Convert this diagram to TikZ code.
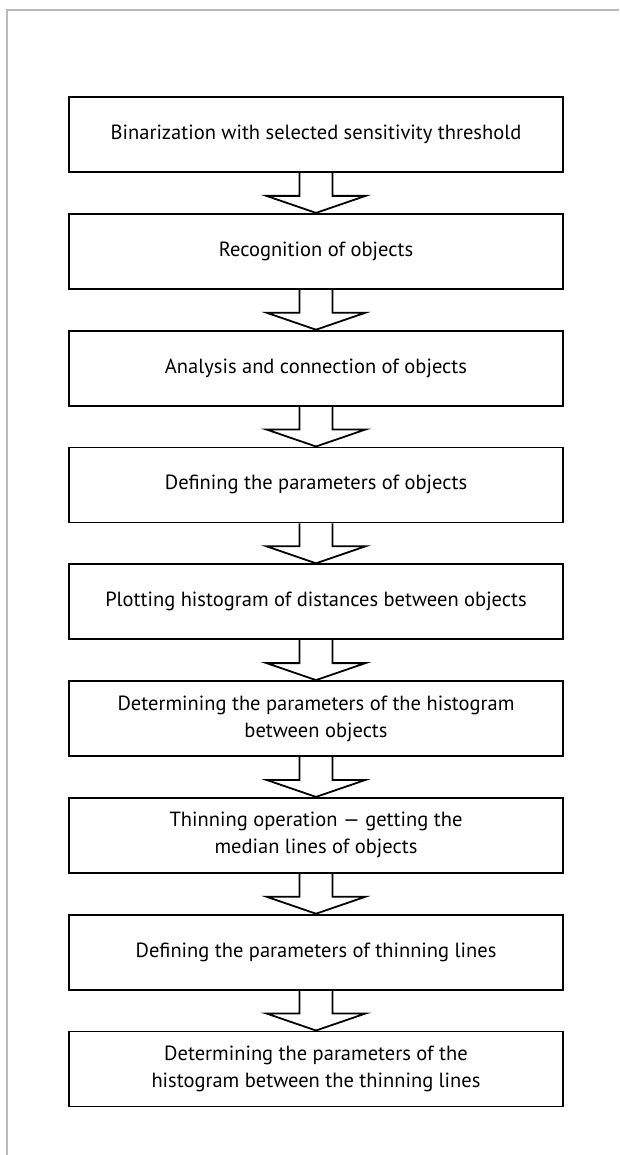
\documentclass[tikz,border=0pt]{standalone}
\usepackage{fontspec}
\setmainfont{PT Sans}
\usetikzlibrary{positioning,calc}

\tikzset{
  stage/.style={draw, line width=1.8pt, minimum width=494pt, minimum height=75pt,
    inner sep=0pt, align=center, font=\fontsize{20.5}{27}\selectfont},
  blockarrow/.style={draw, line width=1.8pt, line join=miter},
}

\begin{document}
\begin{tikzpicture}[x=1pt,y=1pt, node distance=40pt]
	\useasboundingbox (0,0) rectangle (619,-1155);
	
	% Page frame
	\draw[black!27, line width=1.3pt] (7,-1155) -- (7,-10) -- (619,-10);
	
	% Stages
	\node[stage] (s1) at (316,-134.5) {Binarization with selected sensitivity threshold};
	\node[stage, below=of s1] (s2) {Recognition of objects};
	\node[stage, below=of s2] (s3) {Analysis and connection of objects};
	\node[stage, below=of s3] (s4) {Defining the parameters of objects};
	\node[stage, below=of s4] (s5) {Plotting histogram of distances between objects};
	\node[stage, below=of s5] (s6) {Determining the parameters of the histogram\\between objects};
	\node[stage, below=of s6] (s7) {Thinning operation --- getting the\\median lines of objects};
	\node[stage, below=of s7] (s8) {Defining the parameters of thinning lines};
	\node[stage, below=of s8] (s9) {Determining the parameters of the\\histogram between the thinning lines};
	
	% Block arrows between stages
	\foreach \a/\b in {s1/s2, s2/s3, s3/s4, s4/s5, s5/s6, s6/s7, s7/s8, s8/s9} {
		\draw[blockarrow] ($(\a.south)+(-16.5,0)$) -- ($(\b.north)+(-16.5,17)$)
			-- ($(\b.north)+(-49.5,17)$) -- (\b.north) -- ($(\b.north)+(49.5,17)$)
			-- ($(\b.north)+(16.5,17)$) -- ($(\a.south)+(16.5,0)$);
	}
	
\end{tikzpicture}
\end{document}
